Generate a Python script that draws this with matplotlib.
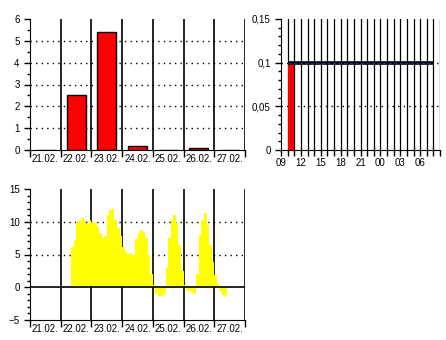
import matplotlib
matplotlib.use("Agg")
import matplotlib.pyplot as plt
import numpy as np

days = ["21.02.", "22.02.", "23.02.", "24.02.", "25.02.", "26.02.", "27.02."]
precip_daily = [0.0, 2.5, 5.4, 0.2, 0.0, 0.1, 0.0]

hour_labels = ["09", "12", "15", "18", "21", "00", "03", "06"]
precip_hourly = [0.0, 0.1, 0.0, 0.0, 0.0, 0.0, 0.0, 0.0, 0.0, 0.0, 0.0, 0.0,
                 0.0, 0.0, 0.0, 0.0, 0.0, 0.0, 0.0, 0.0, 0.0, 0.0, 0.0, 0.0]
sum_hours = 23  # sum line drawn up to this hour

# temperature, 2-hour steps starting 22.02. 08:00
temp_start_hour = 32
temp_step = 2
temperature = [6.2, 7.2, 10.0, 10.1, 10.5, 10.2, 9.6, 10.3,
               10.0, 9.8, 9.2, 8.3, 7.5, 7.8, 11.0, 11.8, 11.9, 10.3, 9.0, 7.8,
               6.2, 5.4, 5.1, 5.3, 4.9, 7.4, 8.3, 8.7, 8.5, 7.5, 5.0, 2.0,
               0.3, -1.0, -1.3, -1.3, -1.0, 3.0, 7.5, 10.3, 11.0, 9.8, 6.5, 2.5,
               0.3, -0.5, -0.6, -0.9, -1.0, 2.0, 8.0, 10.2, 11.4, 9.5, 6.5, 3.8,
               1.8, 0.5, -0.6, -1.2, -1.5]

plt.rcParams["font.family"] = ["Liberation Sans", "DejaVu Sans"]

W, H = 446, 340
DOT = (0, (1, 3))
FS = 7


def _axes(fig, left, top, right, bottom):
    ax = fig.add_axes([left / W, 1 - bottom / H, (right - left) / W, (bottom - top) / H])
    for s in ("top", "right"):
        ax.spines[s].set_visible(False)
    ax.tick_params(which="both", labelsize=FS, colors="black", width=1)
    ax.tick_params(which="major", length=4)
    ax.tick_params(which="minor", length=2)
    return ax


def _day_axis(ax):
    n = len(days)
    ax.set_xlim(0, n)
    ax.set_xticks(np.arange(n + 1))
    ax.set_xticklabels([])
    ax.set_xticks(np.arange(n) + 0.5, minor=True)
    ax.set_xticklabels(days, minor=True)
    ax.tick_params(axis="x", which="minor", length=0, pad=3)
    ax.tick_params(axis="x", which="major", length=5)
    for d in range(1, n + 1):
        ax.axvline(d, color="black", lw=1.2, zorder=1)


fig = plt.figure(figsize=(W / 100, H / 100), dpi=100)

# daily precipitation
ax1 = _axes(fig, 30, 19, 245, 150)
_day_axis(ax1)
ax1.set_ylim(0, 6)
ax1.set_yticks(range(0, 7))
ax1.set_yticks(np.arange(0, 6, 0.5), minor=True)
for y in range(1, 6):
    ax1.axhline(y, color="black", lw=1, ls=DOT, zorder=1)
ax1.bar(np.arange(len(days)) + 0.5, precip_daily, width=0.62,
        color="red", edgecolor="black", lw=1, zorder=3)

# hourly precipitation
ax2 = _axes(fig, 281, 19, 440, 150)
nh = len(precip_hourly)
ax2.set_xlim(0, nh)
ax2.set_ylim(0, 0.15)
ax2.set_yticks([0, 0.05, 0.1, 0.15])
ax2.set_yticklabels(["0", "0,05", "0,1", "0,15"])
ax2.set_yticks(np.arange(0, 0.15, 0.01), minor=True)
ax2.set_xticks(np.arange(nh + 1), minor=True)
ax2.set_xticks(np.arange(0, nh, 3))
ax2.set_xticklabels(hour_labels)
ax2.tick_params(axis="x", which="major", length=4, pad=2)
ax2.tick_params(axis="x", which="minor", length=4)
for h in range(1, nh + 1):
    ax2.axvline(h, color="black", lw=0.9, zorder=1)
for y in (0.05, 0.1):
    ax2.axhline(y, color="black", lw=1, ls=DOT, zorder=1)
ax2.bar(np.arange(nh), precip_hourly, width=1, align="edge",
        color="red", edgecolor="none", zorder=3)
csum = np.cumsum(precip_hourly)
first = int(np.argmax(csum > 0))
xs = np.arange(first, sum_hours + 1)
ys = csum[first:sum_hours + 1]
ax2.plot(xs, ys, color="black", lw=2.6, zorder=4, solid_capstyle="butt")
ax2.plot(xs, ys, color="#1a2a9a", lw=0.8, ls=(0, (3, 2)), zorder=5)

# temperature
ax3 = _axes(fig, 30, 189, 245, 320)
_day_axis(ax3)
ax3.set_ylim(-5, 15)
ax3.set_yticks([-5, 0, 5, 10, 15])
ax3.set_yticks(range(-5, 15), minor=True)
for y in (5, 10):
    ax3.axhline(y, color="black", lw=1, ls=DOT, zorder=1)
t_x = (temp_start_hour + np.arange(len(temperature)) * temp_step) / 24.0
ax3.bar(t_x, temperature, width=temp_step / 24.0, align="edge",
        color="yellow", edgecolor="none", zorder=2)
ax3.axhline(0, color="black", lw=1.2, zorder=3)

fig.savefig("out.png", dpi=100)
